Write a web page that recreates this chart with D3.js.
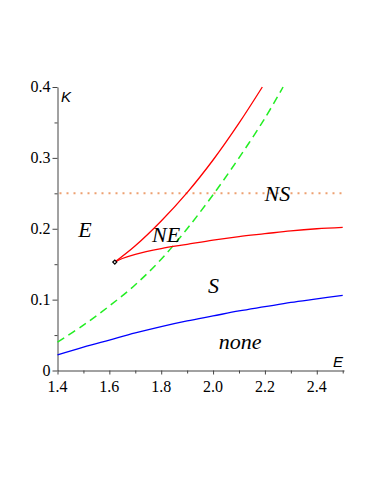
<!DOCTYPE html>
<html>
<head>
<meta charset="utf-8">
<script src="https://cdn.jsdelivr.net/npm/d3@7"></script>
<style>
  body { margin: 0; background: #fff; }
</style>
</head>
<body>
<div id="chart"></div>
<script>
// ==== Data ====
const xTicks = [1.4, 1.6, 1.8, 2.0, 2.2, 2.4];
const yTicks = [0, 0.1, 0.2, 0.3, 0.4];
const xMinor = [1.5, 1.7, 1.9, 2.1, 2.3, 2.5];
const yMinor = [0.05, 0.15, 0.25, 0.35];

// blue boundary (lower)
const blueE = [1.4, 1.5, 1.6, 1.7, 1.8, 1.9, 2.0, 2.1, 2.2, 2.3, 2.4, 2.5];
const blueK = [0.022, 0.033, 0.043, 0.053, 0.062, 0.070, 0.077, 0.084, 0.090, 0.096, 0.101, 0.106];

// green dashed boundary
const greenE = [1.4, 1.5, 1.6, 1.7, 1.8, 1.9, 2.0, 2.1, 2.2, 2.27];
const greenK = [0.040, 0.064, 0.091, 0.121, 0.157, 0.200, 0.248, 0.300, 0.356, 0.400];

// red boundary, upper branch from the cusp
const redUpE = [1.621, 1.7, 1.8, 1.9, 2.0, 2.1, 2.19];
const redUpK = [0.153, 0.176, 0.211, 0.251, 0.297, 0.349, 0.400];

// red boundary, lower branch from the cusp
const redLoE = [1.621, 1.65, 1.7, 1.8, 1.9, 2.0, 2.1, 2.2, 2.3, 2.4, 2.5];
const redLoK = [0.153, 0.158, 0.164, 0.172, 0.178, 0.184, 0.189, 0.193, 0.197, 0.200, 0.202];

const cusp = { E: 1.621, K: 0.153 };
const levelK = 0.25;

const regions = [
    { text: "E", E: 1.506, K: 0.188 },
    { text: "NE", E: 1.819, K: 0.181 },
    { text: "NS", E: 2.248, K: 0.239 },
    { text: "S", E: 2.002, K: 0.109 },
    { text: "none", E: 2.104, K: 0.031 }
];

// ==== Chart ====
const svg = d3.select("#chart")
              .append("svg")
              .attr("width", 374)
              .attr("height", 484);

const x = d3.scaleLinear().domain([1.4, 2.505]).range([57.5, 344]);
const y = d3.scaleLinear().domain([0, 0.4]).range([370.5, 87]);

const zip = (es, ks) => es.map((e, i) => ({ E: e, K: ks[i] }));

const line = d3.line()
    .x(d => x(d.E))
    .y(d => y(d.K))
    .curve(d3.curveCatmullRom.alpha(0.5));

const serif = "Liberation Serif, DejaVu Serif, serif";
const sans = "Liberation Sans, DejaVu Sans, sans-serif";

// axes (lines and ticks only, labels drawn separately)
const axisColor = "#444";
svg.append("g")
    .attr("transform", `translate(0,${y(0)})`)
    .call(d3.axisBottom(x).tickValues(xTicks).tickFormat("").tickSize(4).tickSizeOuter(0));
svg.append("g")
    .attr("transform", `translate(0,${y(0)})`)
    .call(d3.axisBottom(x).tickValues(xMinor).tickFormat("").tickSize(3).tickSizeOuter(0))
    .select(".domain").remove();
svg.append("g")
    .attr("transform", `translate(${x(1.4)},0)`)
    .call(d3.axisLeft(y).tickValues(yTicks).tickFormat("").tickSize(5).tickSizeOuter(0));
svg.append("g")
    .attr("transform", `translate(${x(1.4)},0)`)
    .call(d3.axisLeft(y).tickValues(yMinor).tickFormat("").tickSize(3).tickSizeOuter(0))
    .select(".domain").remove();
svg.selectAll(".domain, .tick line").attr("stroke", axisColor);

// tick labels
svg.selectAll("text.xlab")
    .data(xTicks)
    .enter()
    .append("text")
    .attr("class", "xlab")
    .attr("x", d => x(d))
    .attr("y", y(0) + 21)
    .attr("text-anchor", "middle")
    .style("font-family", serif)
    .style("font-size", "16px")
    .text(d3.format(".1f"));

svg.selectAll("text.ylab")
    .data(yTicks)
    .enter()
    .append("text")
    .attr("class", "ylab")
    .attr("x", x(1.4) - 7)
    .attr("y", d => y(d) + 5)
    .attr("text-anchor", "end")
    .style("font-family", serif)
    .style("font-size", "16px")
    .text(d => d === 0 ? "0" : d3.format(".1f")(d));

// axis titles
svg.append("text")
    .attr("x", 61).attr("y", 102)
    .style("font-family", sans)
    .style("font-style", "italic")
    .style("font-size", "15px")
    .text("K");
svg.append("text")
    .attr("x", 333).attr("y", 367)
    .style("font-family", sans)
    .style("font-style", "italic")
    .style("font-size", "15px")
    .text("E");

// dotted level K = 0.25
svg.append("line")
    .attr("x1", x(1.4) + 2).attr("x2", x(2.5))
    .attr("y1", y(levelK)).attr("y2", y(levelK))
    .attr("stroke", "#eda070")
    .attr("stroke-width", 2)
    .attr("stroke-dasharray", "2,5");

// curves
svg.append("path")
    .datum(zip(blueE, blueK))
    .attr("fill", "none")
    .attr("stroke", "#0000ff")
    .attr("stroke-width", 1.3)
    .attr("d", line);

svg.append("path")
    .datum(zip(greenE, greenK))
    .attr("fill", "none")
    .attr("stroke", "#22ee22")
    .attr("stroke-width", 1.5)
    .attr("stroke-dasharray", "8,5")
    .attr("d", line);

svg.append("path")
    .datum(zip(redUpE, redUpK))
    .attr("fill", "none")
    .attr("stroke", "#ff0000")
    .attr("stroke-width", 1.3)
    .attr("d", line);

svg.append("path")
    .datum(zip(redLoE, redLoK))
    .attr("fill", "none")
    .attr("stroke", "#ff0000")
    .attr("stroke-width", 1.3)
    .attr("d", line);

// cusp marker
svg.append("path")
    .attr("transform", `translate(${x(cusp.E)},${y(cusp.K)}) rotate(45)`)
    .attr("d", d3.symbol().type(d3.symbolSquare).size(8))
    .attr("fill", "#fff")
    .attr("stroke", "#000")
    .attr("stroke-width", 1.2);

// region labels
svg.selectAll("text.region")
    .data(regions)
    .enter()
    .append("text")
    .attr("class", "region")
    .attr("x", d => x(d.E))
    .attr("y", d => y(d.K))
    .attr("text-anchor", "middle")
    .style("font-family", serif)
    .style("font-style", "italic")
    .style("font-size", "22px")
    .text(d => d.text);
</script>
</body>
</html>
